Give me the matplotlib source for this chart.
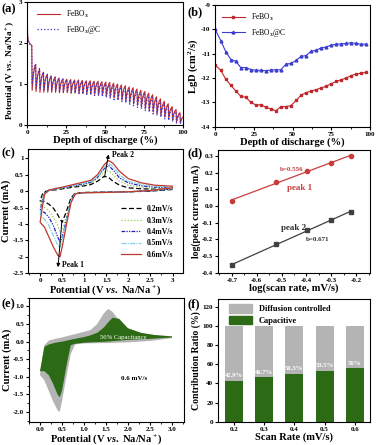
import matplotlib
matplotlib.use('Agg')
import matplotlib.pyplot as plt
import numpy as np
from matplotlib.ticker import FormatStrFormatter, AutoMinorLocator
from matplotlib.patches import Patch

matplotlib.rcParams.update({
    'font.family': 'Liberation Serif', 'font.weight': 'bold', 'font.size': 6,
    'axes.labelweight': 'bold', 'axes.unicode_minus': False,
    'mathtext.fontset': 'custom', 'mathtext.rm': 'Liberation Serif:bold',
    'mathtext.it': 'Liberation Serif:italic:bold', 'mathtext.bf': 'Liberation Serif:bold',
    'xtick.direction': 'out', 'ytick.direction': 'out',
    'xtick.major.size': 2.2, 'ytick.major.size': 2.2,
    'xtick.minor.size': 1.3, 'ytick.minor.size': 1.3,
    'xtick.labelsize': 5, 'ytick.labelsize': 5,
    'xtick.major.pad': 1.2, 'ytick.major.pad': 1.2,
    'axes.linewidth': 0.8,
})

# ---- (a) GITT ----
gitt_init_x = [0, 0.3, 0.8, 2.0]
gitt_init_v = [2.95, 2.2, 2.05, 1.97]
gitt_x = [3, 5.5, 8, 10.5, 13, 15.5, 18, 20.5, 23, 25.5, 28, 30.5, 33, 35.5, 38, 40.5,
          43, 45.5, 48, 50.5, 53, 55.5, 58, 60.5, 63, 65.5, 68, 70.5, 73, 75.5, 78, 80.5,
          83, 85.5, 88, 90.5, 93, 95.5, 98, 100]
fe_top = [1.95, 1.48, 1.36, 1.29, 1.24, 1.20, 1.17, 1.15, 1.13, 1.12, 1.11, 1.10, 1.10,
          1.09, 1.08, 1.08, 1.07, 1.07, 1.06, 1.05, 1.04, 1.02, 1.00, 0.98, 0.96, 0.93,
          0.91, 0.88, 0.85, 0.82, 0.78, 0.74, 0.69, 0.64, 0.58, 0.52, 0.45, 0.38, 0.30, 0.20]
fe_dip = [0.85, 0.82, 0.80, 0.80, 0.80, 0.80, 0.80, 0.79, 0.79, 0.79, 0.78, 0.78, 0.77,
          0.77, 0.76, 0.75, 0.74, 0.73, 0.72, 0.70, 0.68, 0.66, 0.63, 0.61, 0.58, 0.55,
          0.52, 0.48, 0.44, 0.40, 0.36, 0.32, 0.28, 0.24, 0.20, 0.16, 0.12, 0.08, 0.05]
fc_top = [1.95, 1.50, 1.38, 1.30, 1.24, 1.20, 1.17, 1.14, 1.12, 1.10, 1.09, 1.08, 1.07,
          1.06, 1.05, 1.04, 1.03, 1.02, 1.01, 1.00, 0.98, 0.96, 0.94, 0.92, 0.89, 0.87,
          0.84, 0.81, 0.78, 0.75, 0.71, 0.67, 0.62, 0.57, 0.52, 0.46, 0.40, 0.33, 0.26, 0.18]
fc_dip = [1.00, 0.90, 0.88, 0.86, 0.85, 0.84, 0.83, 0.82, 0.81, 0.80, 0.79, 0.78, 0.77,
          0.76, 0.75, 0.74, 0.72, 0.71, 0.69, 0.67, 0.65, 0.62, 0.60, 0.57, 0.54, 0.51,
          0.47, 0.43, 0.39, 0.35, 0.31, 0.27, 0.23, 0.19, 0.15, 0.11, 0.08, 0.05, 0.03]

# ---- (b) diffusion coefficient ----
dod_fe = [0, 3.7, 6.9, 10.2, 13.4, 16.6, 19.9, 23.1, 26.3, 29.6, 32.8, 36.1, 39.3, 42.5,
          45.8, 49, 52.3, 55.5, 58.7, 62, 65.2, 68.5, 71.7, 74.9, 78.2, 81.4, 84.7, 87.7,
          90.9, 94.2, 97.4]
lgd_fe = [-11.47, -11.68, -12.05, -12.30, -12.53, -12.75, -12.79, -13.00, -13.10, -13.10,
          -13.20, -13.27, -13.34, -13.17, -13.17, -13.13, -12.92, -12.70, -12.60, -12.53,
          -12.48, -12.40, -12.34, -12.23, -12.14, -12.07, -12.00, -11.90, -11.84, -11.80,
          -11.77]
lgd_fc = [-10.00, -10.47, -10.92, -11.24, -11.31, -11.57, -11.57, -11.65, -11.68, -11.68,
          -11.70, -11.67, -11.66, -11.66, -11.43, -11.40, -11.28, -11.11, -11.08, -10.90,
          -10.86, -10.76, -10.73, -10.65, -10.61, -10.60, -10.58, -10.55, -10.58, -10.61,
          -10.61]

# ---- (c) CV curves ----
e_cath = [3.0, 2.5, 2.0, 1.5, 1.0, 0.8, 0.7, 0.6, 0.5, 0.45, 0.4, 0.3, 0.2, 0.1, 0.0]
e_anod = [0.0, 0.05, 0.1, 0.2, 0.35, 0.5, 0.75, 1.0, 1.15, 1.3, 1.45, 1.55, 1.65, 1.8,
          2.0, 2.3, 2.6, 3.0]
rates = ['0.2mV/s', '0.3mV/s', '0.4mV/s', '0.5mV/s', '0.6mV/s']
i_cath = [
    [0.05, 0.0, -0.02, -0.03, -0.04, -0.06, -0.2, -0.6, -0.95, -0.85, -0.72, -0.52, -0.4, -0.32, -0.3],
    [0.06, 0.01, -0.02, -0.03, -0.04, -0.07, -0.25, -0.75, -1.2, -1.25, -1.05, -0.8, -0.6, -0.5, -0.45],
    [0.07, 0.01, -0.02, -0.03, -0.05, -0.08, -0.28, -0.85, -1.4, -1.55, -1.4, -1.05, -0.8, -0.65, -0.6],
    [0.08, 0.02, -0.02, -0.04, -0.05, -0.08, -0.3, -0.9, -1.5, -1.72, -1.65, -1.35, -1.05, -0.85, -0.75],
    [0.10, 0.02, -0.02, -0.04, -0.05, -0.08, -0.35, -1.0, -1.7, -2.0, -1.95, -1.7, -1.4, -1.1, -0.95],
]
i_anod = [
    [-0.3, -0.1, -0.02, 0.02, 0.04, 0.07, 0.12, 0.16, 0.2, 0.3, 0.45, 0.42, 0.3, 0.18, 0.1, 0.07, 0.06, 0.06],
    [-0.45, -0.2, -0.04, 0.02, 0.05, 0.08, 0.14, 0.2, 0.24, 0.38, 0.58, 0.62, 0.5, 0.3, 0.18, 0.12, 0.09, 0.08],
    [-0.6, -0.3, -0.06, 0.02, 0.06, 0.1, 0.16, 0.22, 0.27, 0.42, 0.68, 0.78, 0.65, 0.4, 0.25, 0.16, 0.12, 0.1],
    [-0.75, -0.4, -0.08, 0.02, 0.07, 0.11, 0.18, 0.25, 0.3, 0.45, 0.72, 0.85, 0.75, 0.5, 0.3, 0.2, 0.15, 0.12],
    [-0.95, -0.5, -0.1, 0.03, 0.08, 0.12, 0.2, 0.28, 0.33, 0.5, 0.8, 0.93, 0.85, 0.6, 0.38, 0.25, 0.18, 0.15],
]

# ---- (d) b-value ----
log_rate = [-0.699, -0.523, -0.398, -0.301, -0.222]
log_peak1 = [0.03, 0.145, 0.21, 0.26, 0.30]
log_peak2 = [-0.355, -0.23, -0.145, -0.085, -0.035]

# ---- (e) capacitive contribution at 0.6 mV/s ----
cap_cath = [0.12, 0.08, 0.05, 0.0, -0.03, -0.06, -0.1, -0.7, -1.4, -1.58, -1.5, -1.2, -0.95, -0.84, -0.84]
cap_anod = [-0.84, -0.5, -0.15, -0.08, -0.03, 0.0, 0.07, 0.13, 0.18, 0.25, 0.4, 0.55, 0.68, 0.65, 0.38, 0.25, 0.19, 0.15]

# ---- (f) contribution ratio ----
scan_rates = ['0.2', '0.3', '0.4', '0.5', '0.6']
capacitive = [42.9, 46.7, 50.3, 53.5, 56]
cap_labels = ['42.9%', '46.7%', '50.3%', '53.5%', '56%']

RED = '#c0282d'
BLUE = '#3c3cd2'
GREEN = '#2d6a16'
GRAY = '#b4b4b4'
LBL = 7.6

fig = plt.figure(figsize=(3.76, 4.45), dpi=100)
axa = fig.add_axes([0.072, 0.719, 0.415, 0.276])
axb = fig.add_axes([0.572, 0.715, 0.412, 0.274])
axc = fig.add_axes([0.075, 0.386, 0.412, 0.279])
axd = fig.add_axes([0.580, 0.386, 0.404, 0.276])
axe = fig.add_axes([0.077, 0.052, 0.412, 0.279])
axf = fig.add_axes([0.580, 0.052, 0.404, 0.276])


def gitt_line(top, dip):
    xs = list(gitt_init_x)
    vs = list(gitt_init_v)
    for k in range(len(dip)):
        x0, x1 = gitt_x[k], gitt_x[k + 1]
        span = x1 - x0 - 0.25
        xs += [x0, x0 + 0.25, x0 + 0.25 + 0.35 * span, x0 + 0.25 + 0.7 * span]
        rise = top[k + 1] - dip[k]
        vs += [top[k], dip[k], dip[k] + 0.6 * rise, dip[k] + 0.88 * rise]
    xs.append(gitt_x[-1])
    vs.append(top[-1])
    return xs, vs


# (a)
xs, vs = gitt_line(fe_top, fe_dip)
axa.plot(xs, vs, '-', color=RED, lw=0.8, label='FeBO$_3$')
xs, vs = gitt_line(fc_top, fc_dip)
axa.plot(xs, vs, ':', color=BLUE, lw=0.9, label='FeBO$_3$@C')
axa.set_xlim(0, 100)
axa.set_ylim(0, 3)
axa.set_xticks([0, 25, 50, 75, 100])
axa.set_yticks([0, 1, 2, 3])
axa.xaxis.set_minor_locator(AutoMinorLocator(2))
axa.set_xlabel('Depth of discharge (%)', fontsize=LBL, labelpad=0.5)
axa.set_ylabel('Potential (V $\\it{vs.}$ Na/Na$^+$)', fontsize=LBL - 0.9, labelpad=1, y=0.45)
axa.legend(loc='upper left', bbox_to_anchor=(0.02, 1.0), frameon=False,
           handlelength=3, labelspacing=0.5, prop={'weight': 'normal', 'size': 5.5})

# (b)
axb.plot(dod_fe, lgd_fe, 's-', color=RED, lw=0.8, ms=2, label='FeBO$_3$')
axb.plot(dod_fe, lgd_fc, '^-', color=BLUE, lw=0.8, ms=2, label='FeBO$_3$@C')
axb.set_xlim(0, 100)
axb.set_ylim(-14, -9)
axb.set_xticks([0, 25, 50, 75, 100])
axb.xaxis.set_minor_locator(AutoMinorLocator(2))
axb.set_xlabel('Depth of discharge (%)', fontsize=LBL, labelpad=0.5)
axb.set_ylabel('LgD (cm$^2$/s)', fontsize=LBL, labelpad=1)
axb.legend(loc='upper left', bbox_to_anchor=(0.0, 1.0), frameon=False,
           handlelength=3, labelspacing=0.5, prop={'weight': 'normal', 'size': 5.5})

# (c)
styles = [((0, (4, 2)), 'black'), ((0, (1, 1.5)), '#8fd14f'), ((0, (3, 1, 1, 1, 1, 1)), '#2020c0'),
          ((0, (4, 1, 1, 1)), '#7fd3e6'), ('-', '#c0392b')]
for k, lab in enumerate(rates):
    ls, col = styles[k]
    axc.plot(e_cath + e_anod, i_cath[k] + i_anod[k], linestyle=ls, color=col, lw=0.9, label=lab)
axc.set_xlim(-0.27, 3.24)
axc.set_ylim(-2.5, 1.28)
axc.set_xticks([0, 0.5, 1, 1.5, 2, 2.5, 3])
axc.set_yticks([1, 0.5, 0, -0.5, -1, -1.5, -2, -2.5])
axc.xaxis.set_major_formatter(FormatStrFormatter('%g'))
axc.yaxis.set_major_formatter(FormatStrFormatter('%g'))
axc.xaxis.set_minor_locator(AutoMinorLocator(2))
axc.set_xlabel('Potential (V $\\it{vs.}$ Na/Na$^+$)', fontsize=LBL, labelpad=0.5)
axc.set_ylabel('Current (mA)', fontsize=LBL, labelpad=1)
axc.legend(loc='lower right', bbox_to_anchor=(0.98, 0.06), frameon=False, fontsize=5.5,
           handlelength=2.6, labelspacing=0.45)
axc.annotate('', xy=(1.56, 1.2), xytext=(1.45, 0.35),
             arrowprops=dict(arrowstyle='-|>', color='black', lw=0.7, mutation_scale=5))
axc.text(1.64, 1.1, 'Peak 2', fontsize=5.5, va='center')
axc.annotate('', xy=(0.4, -2.4), xytext=(0.5, -0.8),
             arrowprops=dict(arrowstyle='-|>', color='black', lw=0.7, mutation_scale=5))
axc.text(0.5, -2.24, 'Peak 1', fontsize=5.5, va='center')

# (d)
for yv, col, mk in [(log_peak1, '#c83c3c', 'o'), (log_peak2, '#404040', 's')]:
    fit = np.polyfit(log_rate, yv, 1)
    axd.plot(log_rate, np.polyval(fit, log_rate), '-', color=col, lw=0.9)
    axd.plot(log_rate, yv, mk, color=col, ms=3)
axd.set_xlim(-0.755, -0.145)
axd.set_ylim(-0.404, 0.334)
axd.set_xticks([-0.7, -0.6, -0.5, -0.4, -0.3, -0.2])
axd.set_yticks([0.3, 0.2, 0.1, 0.0, -0.1, -0.2, -0.3, -0.4])
axd.xaxis.set_major_formatter(FormatStrFormatter('%.1f'))
axd.yaxis.set_major_formatter(FormatStrFormatter('%.1f'))
axd.xaxis.set_minor_locator(AutoMinorLocator(2))
axd.set_xlabel('log(scan rate, mV/s)', fontsize=LBL, labelpad=0.5)
axd.set_ylabel('log(peak current, mA)', fontsize=LBL - 0.6, labelpad=1)
axd.text(-0.461, 0.22, 'b=0.556', color='#c83c3c', fontsize=5, ha='center', va='center')
axd.text(-0.428, 0.108, 'peak 1', color='#c83c3c', fontsize=6.5, ha='center', va='center')
axd.text(-0.452, -0.132, 'peak 2', color='#303030', fontsize=6.5, ha='center', va='center')
axd.text(-0.354, -0.2, 'b=0.671', color='#303030', fontsize=5, ha='center', va='center')

# (e)
axe.fill(e_cath + e_anod, i_cath[4] + i_anod[4], color=GRAY, lw=0)
axe.fill(e_cath + e_anod, cap_cath + cap_anod, color=GREEN, lw=0)
axe.set_xlim(-0.25, 3.27)
axe.set_ylim(-2.28, 1.25)
axe.set_xticks([0, 0.5, 1, 1.5, 2, 2.5, 3])
axe.set_yticks([1, 0.5, 0, -0.5, -1, -1.5, -2])
axe.xaxis.set_major_formatter(FormatStrFormatter('%.1f'))
axe.yaxis.set_major_formatter(FormatStrFormatter('%.1f'))
axe.xaxis.set_minor_locator(AutoMinorLocator(2))
axe.yaxis.set_minor_locator(AutoMinorLocator(2))
axe.set_xlabel('Potential (V $\\it{vs.}$ Na/Na$^+$)', fontsize=LBL, labelpad=0.5)
axe.set_ylabel('Current (mA)', fontsize=LBL, labelpad=1)
axe.text(1.9, 0.13, '56% Capacitance', color='white', fontsize=4.8, ha='center', va='center',
         fontweight='normal')
axe.text(2.13, -1.05, '0.6 mV/s', color='black', fontsize=5, ha='center', va='center')

# (f)
xpos = np.arange(len(scan_rates))
diffusion = [100 - c for c in capacitive]
axf.bar(xpos, capacitive, width=0.6, color=GREEN, label='Capacitive')
axf.bar(xpos, diffusion, width=0.6, bottom=capacitive, color=GRAY, label='Diffusion controlled')
for xp, c, lab in zip(xpos, capacitive, cap_labels):
    axf.text(xp, c + 5, lab, color='white', fontsize=4.8, ha='center', va='center')
axf.set_xlim(-0.52, 4.5)
axf.set_ylim(0, 128)
axf.set_xticks(xpos)
axf.set_xticklabels(scan_rates)
axf.set_yticks([0, 20, 40, 60, 80, 100, 120])
axf.set_xlabel('Scan Rate (mV/s)', fontsize=LBL, labelpad=0.5)
axf.set_ylabel('Contribution Ratio (%)', fontsize=LBL - 0.6, labelpad=1)
axf.legend(handles=[Patch(color=GRAY, label='Diffusion controlled'), Patch(color=GREEN, label='Capacitive')],
           loc='upper left', bbox_to_anchor=(0.02, 1.02), frameon=False, fontsize=6,
           handlelength=2.8, handleheight=1.2, labelspacing=0.3)

for lab, (x, y) in zip(['(a)', '(b)', '(c)', '(d)', '(e)', '(f)'],
                       [(1, 9), (188, 12), (1, 153), (188, 153), (1, 304), (188, 304)]):
    fig.text(x / 376, 1 - y / 445, lab, fontsize=9, fontweight='bold', va='center', ha='left')

fig.savefig('out.png', dpi=100)
